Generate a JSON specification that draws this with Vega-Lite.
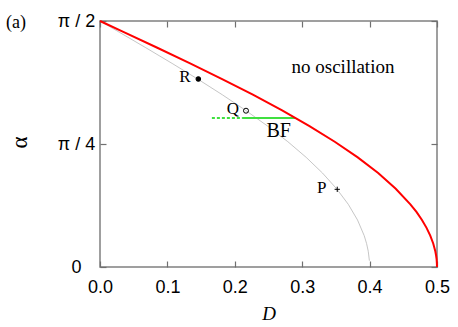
{
  "$schema": "https://vega.github.io/schema/vega-lite/v6.json",
  "width": 337,
  "height": 246,
  "autosize": {"type": "none"},
  "padding": {"left": 100, "top": 21, "right": 21, "bottom": 60},
  "config": {
    "view": {"stroke": "#808080", "strokeWidth": 1.5},
    "axis": {"domain": false, "grid": false, "tickColor": "#707070", "tickWidth": 1.2, "tickSize": -6,
             "labelFlush": false, "labelOverlap": false, "labelBound": false,
             "labelFont": "Liberation Sans", "labelFontSize": 18, "labelColor": "#000",
             "titleColor": "#000", "titleFontWeight": "normal"}
  },
  "datasets": {
    "red": [
      {"D": 0.0, "alpha": 1.5708}, {"D": 0.0354, "alpha": 1.5}, {"D": 0.0850, "alpha": 1.4},
      {"D": 0.1337, "alpha": 1.3}, {"D": 0.1812, "alpha": 1.2}, {"D": 0.2268, "alpha": 1.1},
      {"D": 0.2702, "alpha": 1.0}, {"D": 0.3108, "alpha": 0.9}, {"D": 0.3483, "alpha": 0.8},
      {"D": 0.3824, "alpha": 0.7}, {"D": 0.4127, "alpha": 0.6}, {"D": 0.4388, "alpha": 0.5},
      {"D": 0.4605, "alpha": 0.4}, {"D": 0.4698, "alpha": 0.35}, {"D": 0.4777, "alpha": 0.3},
      {"D": 0.4845, "alpha": 0.25}, {"D": 0.4900, "alpha": 0.2},
      {"D": 0.4944, "alpha": 0.15}, {"D": 0.4975, "alpha": 0.1}, {"D": 0.4986, "alpha": 0.075},
      {"D": 0.4994, "alpha": 0.05}, {"D": 0.4998, "alpha": 0.025},
      {"D": 0.5, "alpha": 0.0}
    ],
    "gray": [
      {"D": 0.0, "alpha": 1.5708}, {"D": 0.0283, "alpha": 1.5}, {"D": 0.0680, "alpha": 1.4},
      {"D": 0.1070, "alpha": 1.3}, {"D": 0.1450, "alpha": 1.2}, {"D": 0.1814, "alpha": 1.1},
      {"D": 0.2161, "alpha": 1.0}, {"D": 0.2486, "alpha": 0.9}, {"D": 0.2787, "alpha": 0.8},
      {"D": 0.3059, "alpha": 0.7}, {"D": 0.3301, "alpha": 0.6}, {"D": 0.3510, "alpha": 0.5},
      {"D": 0.3684, "alpha": 0.4}, {"D": 0.3821, "alpha": 0.3}, {"D": 0.3920, "alpha": 0.2},
      {"D": 0.3955, "alpha": 0.15}, {"D": 0.3980, "alpha": 0.1}, {"D": 0.3997, "alpha": 0.04}
    ],
    "greenSolid": [{"D": 0.212, "alpha": 0.951}, {"D": 0.290, "alpha": 0.951}],
    "greenDash": [{"D": 0.166, "alpha": 0.951}, {"D": 0.212, "alpha": 0.951}],
    "points": [
      {"D": 0.1459, "alpha": 1.2004, "kind": "R"},
      {"D": 0.2166, "alpha": 0.998, "kind": "Q"},
      {"D": 0.352, "alpha": 0.496, "kind": "P"}
    ],
    "labels": [
      {"D": 0.126, "alpha": 1.215, "text": "R", "size": 17},
      {"D": 0.197, "alpha": 1.011, "text": "Q", "size": 17},
      {"D": 0.329, "alpha": 0.505, "text": "P", "size": 17},
      {"D": 0.265, "alpha": 0.868, "text": "BF", "size": 20},
      {"D": 0.3605, "alpha": 1.277, "text": "no oscillation", "size": 19},
      {"D": -0.1246, "alpha": 1.558, "text": "(a)", "size": 18}
    ]
  },
  "layer": [
    {
      "data": {"name": "gray"},
      "mark": {"type": "line", "color": "#b8b8b8", "strokeWidth": 0.8},
      "encoding": {
        "x": {"field": "D", "type": "quantitative", "scale": {"domain": [0, 0.5], "nice": false},
              "axis": {"orient": "top", "values": [0, 0.1, 0.2, 0.3, 0.4, 0.5], "labels": false, "title": null}},
        "y": {"field": "alpha", "type": "quantitative", "scale": {"domain": [0, 1.5708], "nice": false, "zero": false},
              "axis": {"orient": "right", "values": [0, 0.7854, 1.5708], "labels": false, "title": null}},
        "order": {"field": "alpha", "sort": "descending"}
      }
    },
    {
      "data": {"name": "greenDash"},
      "mark": {"type": "line", "color": "#40e040", "strokeWidth": 2, "strokeDash": [3, 2]},
      "encoding": {
        "x": {"field": "D", "type": "quantitative", "axis": null},
        "y": {"field": "alpha", "type": "quantitative", "axis": null}
      }
    },
    {
      "data": {"name": "greenSolid"},
      "mark": {"type": "line", "color": "#40e040", "strokeWidth": 2},
      "encoding": {
        "x": {"field": "D", "type": "quantitative", "axis": null},
        "y": {"field": "alpha", "type": "quantitative", "axis": null}
      }
    },
    {
      "data": {"name": "red"},
      "mark": {"type": "line", "color": "#ff0000", "strokeWidth": 2},
      "encoding": {
        "x": {"field": "D", "type": "quantitative",
              "axis": {"orient": "bottom", "values": [0, 0.1, 0.2, 0.3, 0.4, 0.5], "format": ".1f",
                       "labelPadding": 17, "title": "D", "titleFont": "Liberation Serif", "titleFontStyle": "italic",
                       "titleFontSize": 19, "titleY": 46, "titleBaseline": "middle"}},
        "y": {"field": "alpha", "type": "quantitative",
              "axis": {"orient": "left", "values": [0, 0.7854, 1.5708], "labelAlign": "center", "labelPadding": 30,
                       "labelExpr": "datum.value > 1.5 ? 'π / 2' : datum.value > 0.5 ? 'π / 4' : '0'",
                       "title": "α", "titleFont": "Liberation Serif", "titleFontSize": 23,
                       "titleX": -81, "titleY": 121, "titleAngle": -90, "titleBaseline": "middle", "titleAlign": "center"}},
        "order": {"field": "alpha", "sort": "descending"}
      }
    },
    {
      "data": {"name": "points"},
      "mark": {"type": "point", "strokeWidth": 1, "color": "black", "opacity": 1},
      "encoding": {
        "x": {"field": "D", "type": "quantitative", "axis": null},
        "y": {"field": "alpha", "type": "quantitative", "axis": null},
        "shape": {"field": "kind", "type": "nominal", "legend": null,
                  "scale": {"domain": ["R", "Q", "P"], "range": ["circle", "circle", "M-1,0H1M0,-1V1"]}},
        "fill": {"field": "kind", "type": "nominal", "legend": null,
                 "scale": {"domain": ["R", "Q", "P"], "range": ["black", "transparent", "transparent"]}},
        "size": {"field": "kind", "type": "nominal", "legend": null,
                 "scale": {"domain": ["R", "Q", "P"], "range": [22, 28, 40]}}
      }
    },
    {
      "data": {"name": "labels"},
      "mark": {"type": "text", "font": "Liberation Serif", "color": "black", "align": "center", "baseline": "middle"},
      "encoding": {
        "x": {"field": "D", "type": "quantitative", "axis": null},
        "y": {"field": "alpha", "type": "quantitative", "axis": null},
        "text": {"field": "text"},
        "size": {"field": "size", "type": "quantitative", "scale": null, "legend": null}
      }
    }
  ],
  "resolve": {"axis": {"x": "independent", "y": "independent"}}
}
